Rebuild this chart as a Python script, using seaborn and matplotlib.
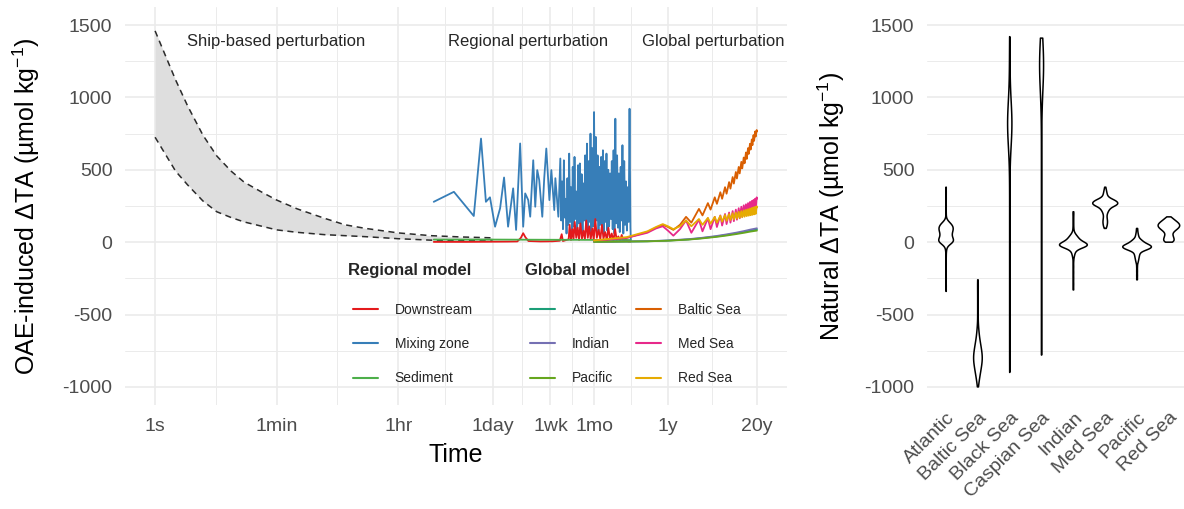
import numpy as np
import pandas as pd
import matplotlib
matplotlib.use("Agg")
import matplotlib.pyplot as plt
from matplotlib.lines import Line2D
import seaborn as sns

# ---------------- DATA ----------------
# Ship-based perturbation envelope (time in seconds)
ship_t = [1, 2, 3, 5, 8, 13, 20, 35, 60, 120, 300, 600, 1200, 3600, 10800, 30000, 86400]
ship_upper = [1460, 1120, 940, 740, 595, 490, 415, 350, 291, 230, 165, 120, 95, 64, 45, 36, 30]
ship_lower = [725, 490, 395, 285, 210, 170, 140, 112, 85, 68, 52, 45, 38, 24, 14, 10, 8]

# Regional model (time in hours)
mix_t_h = [3.3, 6.5, 12.7, 16.2, 19.1, 21.9, 26, 30.8, 35.2, 40.3, 47.8, 52.8, 60.5, 67, 71.7,
           79.4, 84.9, 94, 100.6, 107.6, 115, 127.5, 136, 146, 162, 173, 191, 198, 219]
mix_v = [279, 348, 181, 716, 279, 310, 107, 234, 447, 107, 372, 85, 682, 107, 337,
         291, 176, 566, 245, 498, 429, 176, 440, 647, 291, 498, 222, 442, 176]
# dense (hourly) part of the mixing-zone record: successive highs and lows
mix_dense_high = [578, 420, 566, 300, 442, 612, 380, 520, 589, 350, 532, 544, 470, 406, 600,
                  681, 560, 750, 650, 899, 727, 600, 520, 589, 635, 560, 612, 500, 475, 560,
                  635, 853, 600, 475, 520, 670, 560, 420, 380, 922]
mix_dense_low = [150, 90, 170, 60, 120, 140, 80, 110, 160, 70, 130, 90, 60, 150, 100,
                 80, 140, 60, 110, 90, 150, 70, 120, 100, 60, 140, 80, 110, 160, 90,
                 60, 130, 100, 70, 150, 60, 120, 80, 140, 100]
mix_dense_start_h, mix_dense_end_h = 234, 2480
mix_last_t_h, mix_last_v = 2510, 16

down_t_h = [3.3, 10, 20, 40, 55, 62, 67, 72, 80, 120, 180, 230, 245, 255, 310, 320, 335, 350,
            365, 380, 400, 420, 440, 460, 485, 510, 535, 560, 590, 620, 650, 690, 720, 760,
            800, 850, 900, 950, 1000, 1060, 1120, 1180, 1250, 1320, 1400, 1480, 1560, 1650,
            1750, 1850, 1950, 2100, 2300, 2500]
down_v = [2, 2, 3, 4, 5, 30, 62, 35, 8, 5, 6, 10, 55, 8, 20, 120, 15, 90,
          20, 140, 30, 100, 15, 130, 25, 80, 20, 150, 30, 110, 20, 95, 15, 160,
          30, 85, 20, 120, 25, 70, 15, 100, 20, 60, 10, 90, 15, 40,
          10, 50, 8, 20, 5, 5]

sed_t_h = [3.3, 24, 100, 500, 2510]
sed_v = [18, 18, 17, 16, 15]

# Global model (time in years)
glob_t_y = [0.083, 0.25, 0.5, 0.67, 0.84, 1.0, 1.2, 1.5, 1.84, 2.2, 2.84, 3.2, 3.84, 4.2,
            4.84, 5.2, 5.84, 6.2, 6.84, 7.2, 7.84, 8.2, 8.84, 9.2, 9.84, 10.2, 10.84, 11.2,
            11.84, 12.2, 12.84, 13.2, 13.84, 14.2, 14.84, 15.2, 15.84, 16.2, 16.84, 17.2,
            17.84, 18.2, 18.84, 19.2, 19.84, 20]
baltic_v = [10, 30, 70, 100, 120, 105, 85, 120, 175, 135, 230, 185, 270, 225,
            310, 265, 345, 300, 380, 335, 415, 370, 450, 405, 485, 440, 520, 475,
            555, 510, 585, 545, 620, 575, 650, 610, 680, 640, 710, 670,
            740, 700, 765, 730, 775, 765]
med_v = [8, 30, 65, 95, 110, 80, 45, 90, 150, 65, 155, 75, 165, 90,
         175, 105, 185, 115, 195, 125, 205, 135, 215, 145, 225, 155, 235, 165,
         245, 175, 255, 185, 262, 192, 270, 200, 278, 207, 285, 213,
         292, 218, 300, 222, 310, 300]
redsea_v = [12, 35, 75, 105, 125, 110, 90, 110, 150, 110, 160, 120, 168, 128,
            175, 135, 182, 142, 188, 148, 194, 153, 200, 158, 205, 163, 210, 168,
            215, 172, 220, 176, 224, 180, 228, 183, 232, 186, 236, 189,
            240, 192, 244, 195, 248, 240]
smooth_t_y = [0.083, 0.5, 1, 2, 3, 5, 7, 10, 13, 16, 20]
atlantic_v = [2, 6, 11, 19, 27, 39, 49, 61, 71, 80, 88]
indian_v = [2, 7, 12, 21, 29, 42, 53, 66, 77, 87, 96]
pacific_v = [2, 6, 10, 18, 25, 36, 45, 56, 65, 73, 80]

# Natural variability (violins): values and their frequencies
seas = ["Atlantic", "Baltic Sea", "Black Sea", "Caspian Sea", "Indian", "Med Sea", "Pacific", "Red Sea"]
atl_vals = [-340, -300, -250, -200, -150, -100, -60, -30, -10, 0, 10, 20, 30, 40, 50, 60, 70, 80,
            90, 100, 110, 120, 130, 140, 160, 200, 250, 300, 340, 380]
atl_cnts = [1, 1, 1, 1, 1, 1, 2, 4, 10, 14, 14, 12, 10, 9, 9, 9, 10, 11, 12, 12, 11, 10, 8, 5, 2, 1, 1, 1, 1, 1]
bal_vals = [-1000, -980, -950, -920, -890, -860, -830, -800, -770, -740, -710, -680, -650, -620,
            -590, -560, -520, -480, -440, -400, -360, -320, -290, -260]
bal_cnts = [1, 2, 4, 6, 8, 10, 12, 13, 12, 10, 8, 6, 4, 3, 2, 1, 1, 1, 1, 1, 1, 1, 1, 1]
blk_vals = [-900, -800, -700, -600, -500, -400, -300, -200, -100, 0, 100, 200, 300, 400, 500,
            550, 600, 650, 700, 750, 800, 850, 900, 950, 1000, 1050, 1100, 1150, 1200, 1250,
            1300, 1350, 1420]
blk_cnts = [1, 1, 1, 1, 1, 1, 1, 1, 1, 1, 1, 1, 1, 1, 1,
            1, 2, 3, 6, 9, 11, 11, 8, 5, 3, 2, 1, 1, 1, 1, 1, 1, 1]
cas_vals = [-780, -700, -600, -500, -400, -300, -200, -100, 0, 100, 200, 300, 400, 500, 600,
            700, 800, 900, 950, 1000, 1050, 1100, 1150, 1200, 1250, 1300, 1350, 1380, 1410]
cas_cnts = [1, 1, 1, 1, 1, 1, 1, 1, 1, 1, 1, 1, 1, 1, 1,
            1, 1, 1, 1, 2, 3, 5, 8, 10, 10, 8, 5, 3, 2]
ind_vals = [-330, -290, -250, -210, -170, -130, -100, -80, -60, -40, -30, -20, -10, 0, 10, 20, 30,
            40, 50, 60, 80, 100, 130, 160, 190, 210]
ind_cnts = [1, 1, 1, 1, 1, 1, 2, 3, 5, 10, 16, 20, 16, 10, 7, 6, 6, 4, 3, 2, 1, 1, 1, 1, 1, 1]
med_vals = [95, 110, 130, 150, 170, 190, 210, 230, 250, 260, 270, 280, 290, 300, 320, 340, 360, 380]
med_cnts = [1, 3, 4, 4, 3, 3, 5, 8, 11, 12, 12, 11, 9, 6, 4, 3, 2, 1]
pac_vals = [-260, -230, -200, -170, -140, -120, -100, -80, -60, -50, -40, -30, -20, -10, 0, 10,
            20, 40, 60, 80, 95]
pac_cnts = [1, 1, 1, 1, 2, 3, 4, 5, 7, 10, 14, 16, 12, 8, 6, 5, 4, 3, 2, 1, 1]
red_vals = [0, 10, 20, 30, 40, 50, 60, 70, 80, 90, 100, 110, 120, 130, 140, 150, 160, 170, 175]
red_cnts = [5, 6, 6, 5, 5, 4, 4, 5, 7, 9, 11, 12, 12, 11, 9, 7, 5, 3, 1]

tick_labels = ["1s", "1min", "1hr", "1day", "1wk", "1mo", "1y", "20y"]
tick_seconds = [1, 60, 3600, 86400, 604800, 2629800, 31557600, 631152000]

reg_names = ["Downstream", "Mixing zone", "Sediment"]
reg_colors = ["#E41A1C", "#377EB8", "#4DAF4A"]
glob_names = ["Atlantic", "Indian", "Pacific", "Baltic Sea", "Med Sea", "Red Sea"]
glob_colors = ["#1B9E77", "#7570B3", "#66A61E", "#D95F02", "#E7298A", "#E6AB02"]

# ---------------- BUILD TABLES ----------------
HOUR = 3600.0
YEAR = 31557600.0

dense_t = np.geomspace(mix_dense_start_h, mix_dense_end_h, 2 * len(mix_dense_high))
dense_v = []
for hi, lo in zip(mix_dense_high, mix_dense_low):
    dense_v += [hi, lo]
mix_all_t = list(mix_t_h) + list(dense_t) + [mix_last_t_h]
mix_all_v = list(mix_v) + dense_v + [mix_last_v]

reg_df = pd.concat([
    pd.DataFrame({"t": np.array(mix_all_t) * HOUR, "v": mix_all_v, "s": "Mixing zone"}),
    pd.DataFrame({"t": np.array(down_t_h) * HOUR, "v": down_v, "s": "Downstream"}),
    pd.DataFrame({"t": np.array(sed_t_h) * HOUR, "v": sed_v, "s": "Sediment"}),
])
glob_df = pd.concat([
    pd.DataFrame({"t": np.array(smooth_t_y) * YEAR, "v": atlantic_v, "s": "Atlantic"}),
    pd.DataFrame({"t": np.array(glob_t_y) * YEAR, "v": baltic_v, "s": "Baltic Sea"}),
    pd.DataFrame({"t": np.array(smooth_t_y) * YEAR, "v": indian_v, "s": "Indian"}),
    pd.DataFrame({"t": np.array(glob_t_y) * YEAR, "v": med_v, "s": "Med Sea"}),
    pd.DataFrame({"t": np.array(smooth_t_y) * YEAR, "v": pacific_v, "s": "Pacific"}),
    pd.DataFrame({"t": np.array(glob_t_y) * YEAR, "v": redsea_v, "s": "Red Sea"}),
])

viol = [(atl_vals, atl_cnts), (bal_vals, bal_cnts), (blk_vals, blk_cnts), (cas_vals, cas_cnts),
        (ind_vals, ind_cnts), (med_vals, med_cnts), (pac_vals, pac_cnts), (red_vals, red_cnts)]
viol_df = pd.concat([
    pd.DataFrame({"sea": name, "val": np.repeat(v, c)}) for name, (v, c) in zip(seas, viol)
])

# ---------------- STYLE ----------------
sns.set_theme(style="white")
plt.rcParams["font.family"] = ["Liberation Sans", "DejaVu Sans"]
plt.rcParams["mathtext.fontset"] = "custom"
plt.rcParams["mathtext.rm"] = "Liberation Sans"
plt.rcParams["mathtext.it"] = "Liberation Sans:italic"
plt.rcParams["mathtext.default"] = "regular"
plt.rcParams["axes.unicode_minus"] = False

W, H = 1184, 509
fig = plt.figure(figsize=(W / 100, H / 100), dpi=100)
ax = fig.add_axes([125 / W, 1 - 405 / H, (787 - 125) / W, 398 / H])
ax2 = fig.add_axes([927 / W, 1 - 405 / H, (1188 - 927) / W, 398 / H])

GRID = "#EBEBEB"
TICKC = "#4D4D4D"
ylims = (-1125, 1625)
ymaj = [-1000, -500, 0, 500, 1000, 1500]
ymin = [-750, -250, 250, 750, 1250]

# ---------------- LEFT PANEL ----------------
ax.set_xscale("log")
lo, hi = np.log10(tick_seconds[0]), np.log10(tick_seconds[-1])
pad = 0.05 * (hi - lo)
ax.set_xlim(10 ** (lo - pad), 10 ** (hi + pad))
ax.set_ylim(*ylims)

ax.fill_between(ship_t, ship_lower, ship_upper, color="#DEDEDE", lw=0, zorder=2)
ax.plot(ship_t, ship_upper, color="#2b2b2b", lw=1.1, ls=(0, (4, 3)), zorder=3)
ax.plot(ship_t, ship_lower, color="#2b2b2b", lw=1.1, ls=(0, (4, 3)), zorder=3)

sns.lineplot(data=reg_df, x="t", y="v", hue="s", hue_order=["Mixing zone", "Downstream", "Sediment"],
             palette={"Mixing zone": "#377EB8", "Downstream": "#E41A1C", "Sediment": "#4DAF4A"},
             estimator=None, sort=False, lw=1.3, legend=False, ax=ax, zorder=4)
sns.lineplot(data=glob_df, x="t", y="v", hue="s",
             hue_order=["Atlantic", "Baltic Sea", "Indian", "Med Sea", "Pacific", "Red Sea"],
             palette=dict(zip(glob_names, glob_colors)),
             estimator=None, sort=False, lw=1.3, legend=False, ax=ax, zorder=5)

minor_x = [np.sqrt(a * b) for a, b in zip(tick_seconds[:-1], tick_seconds[1:])]
ax.set_xticks(tick_seconds)
ax.set_xticklabels(tick_labels)
ax.set_xticks(minor_x, minor=True)
ax.set_yticks(ymaj)
ax.set_yticks(ymin, minor=True)
ax.yaxis.set_minor_formatter(matplotlib.ticker.NullFormatter())
ax.xaxis.set_minor_formatter(matplotlib.ticker.NullFormatter())

for a in (ax, ax2):
    a.grid(which="major", color=GRID, lw=1.2)
    a.grid(which="minor", color=GRID, lw=0.7)
    a.set_axisbelow(True)
    for sp in a.spines.values():
        sp.set_visible(False)
    a.tick_params(which="both", length=0, labelsize=14, labelcolor=TICKC)
    a.tick_params(axis="y", pad=9)
ax.tick_params(axis="x", pad=9.5)

ax.set_xlabel("Time", fontsize=18, color="black")
ax.xaxis.set_label_coords(0.5, -0.095)
ax.set_ylabel(r"OAE-induced ΔTA (µmol kg$^{-1}$)", fontsize=18, color="black")
ax.yaxis.set_label_coords(-0.125, 0.5)

txtc = "#262626"
ax.text(58, 1390, "Ship-based perturbation", ha="center", va="center", fontsize=12, color=txtc)
ax.text(2.86e5, 1390, "Regional perturbation", ha="center", va="center", fontsize=12, color=txtc)
ax.text(1.45e8, 1390, "Global perturbation", ha="center", va="center", fontsize=12, color=txtc)

reg_handles = [Line2D([], [], color=c, lw=1.5) for c in reg_colors]
glob_handles = [Line2D([], [], color=c, lw=1.5) for c in glob_colors]
common = dict(loc="upper left", bbox_transform=fig.transFigure, frameon=False, fontsize=10,
              title_fontproperties={"weight": "bold", "size": 12}, alignment="left",
              handlelength=1.8, handletextpad=1.2, labelspacing=1.45, borderpad=0,
              borderaxespad=0, labelcolor=txtc)
leg1 = ax.legend(reg_handles, reg_names, title="Regional model",
                 bbox_to_anchor=(348 / W, 1 - 263 / H), **common)
leg1._legend_handle_box.pad = 3.6
ax.add_artist(leg1)
leg2 = ax.legend(glob_handles, glob_names, title="Global model", ncol=2, columnspacing=1.35,
                 bbox_to_anchor=(525 / W, 1 - 263 / H), **common)
leg2._legend_handle_box.pad = 3.6

# ---------------- RIGHT PANEL ----------------
sns.violinplot(data=viol_df, x="sea", y="val", order=seas, density_norm="area", cut=0,
               inner=None, width=0.9, bw_adjust=0.6, fill=False, color="black",
               linecolor="#1a1a1a", linewidth=1.1, ax=ax2)
ax2.set_xlim(-0.6, len(seas) - 0.4)
ax2.set_ylim(*ylims)
ax2.set_yticks(ymaj)
ax2.set_yticks(ymin, minor=True)
ax2.yaxis.set_minor_formatter(matplotlib.ticker.NullFormatter())
ax2.set_xlabel("")
ax2.set_ylabel(r"Natural ΔTA (µmol kg$^{-1}$)", fontsize=18, color="black")
ax2.yaxis.set_label_coords(-0.307, 0.5)
for lab in ax2.get_xticklabels():
    lab.set_rotation(45)
    lab.set_ha("right")
    lab.set_va("top")
    lab.set_rotation_mode("anchor")
ax2.tick_params(axis="x", pad=3)

fig.savefig("out.png", dpi=100)
